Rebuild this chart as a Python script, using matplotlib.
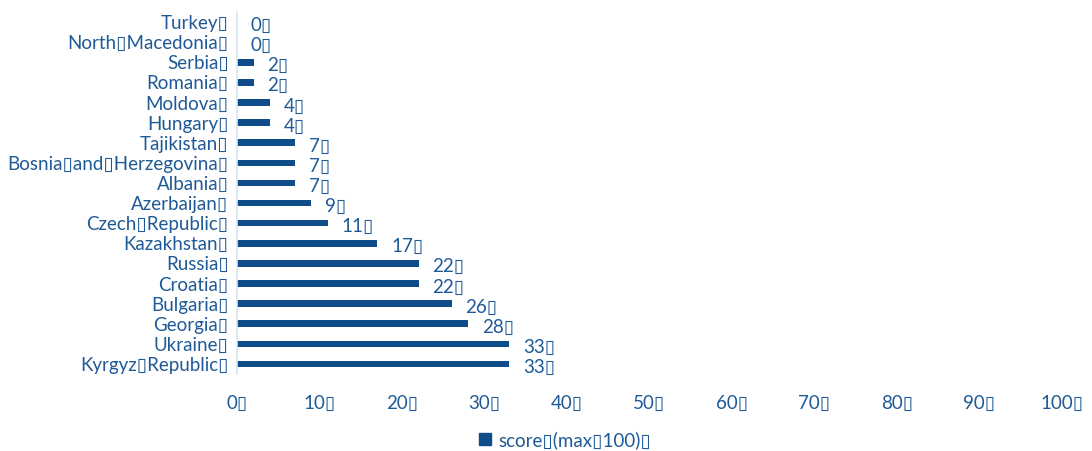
import matplotlib
matplotlib.use("Agg")
import matplotlib.pyplot as plt
from matplotlib.patches import Patch

B = "\u25AF"
countries = ["Turkey", "North Macedonia", "Serbia", "Romania", "Moldova", "Hungary",
             "Tajikistan", "Bosnia and Herzegovina", "Albania", "Azerbaijan",
             "Czech Republic", "Kazakhstan", "Russia", "Croatia", "Bulgaria",
             "Georgia", "Ukraine", "Kyrgyz Republic"]
scores = [0, 0, 2, 2, 4, 4, 7, 7, 7, 9, 11, 17, 22, 22, 26, 28, 33, 33]
xticks = [0, 10, 20, 30, 40, 50, 60, 70, 80, 90, 100]
legend_label = "score (max 100)"

def boxed(s):
    return s.replace(" ", B) + B

bar_color = "#0f4c8a"
text_color = "#1f5a96"
fam = ["Lato", "DejaVu Sans"]
fs = 13.5

fig = plt.figure(figsize=(10.92, 4.51), dpi=100)
ax = fig.add_axes([237/1092, 1-374/451, (1062-237)/1092, (374-12)/451])
y = list(range(len(countries)))
ax.barh(y, scores, height=0.33, color=bar_color)
ax.set_ylim(len(countries)-0.5, -0.5)
ax.set_xlim(0, 100)
ax.set_yticks(y)
ax.set_yticklabels([boxed(c) for c in countries], family=fam, fontsize=fs, color=text_color)
ax.set_xticks(xticks)
ax.set_xticklabels([boxed(str(t)) for t in xticks], family=fam, fontsize=fs, color=text_color)
ax.tick_params(axis="both", length=0)
ax.tick_params(axis="x", pad=15)
ax.tick_params(axis="y", pad=6)
for s in ["top", "right", "bottom"]:
    ax.spines[s].set_visible(False)
ax.spines["left"].set_color("#d6e4f2")
ax.spines["left"].set_linewidth(1.2)
for yi, v in zip(y, scores):
    ax.annotate(boxed(str(v)), (v, yi), xytext=(10, -2.5), textcoords="offset points",
                ha="left", va="center", family=fam, fontsize=fs, color=text_color)

fig.legend(handles=[Patch(color=bar_color)], labels=[boxed(legend_label)],
           loc="center", bbox_to_anchor=(565/1092, 1-440/451), frameon=False,
           prop={"family": fam, "size": fs}, labelcolor=text_color,
           handlelength=0.6, handleheight=0.6, handletextpad=0.4)
fig.savefig("out.png", dpi=100)
